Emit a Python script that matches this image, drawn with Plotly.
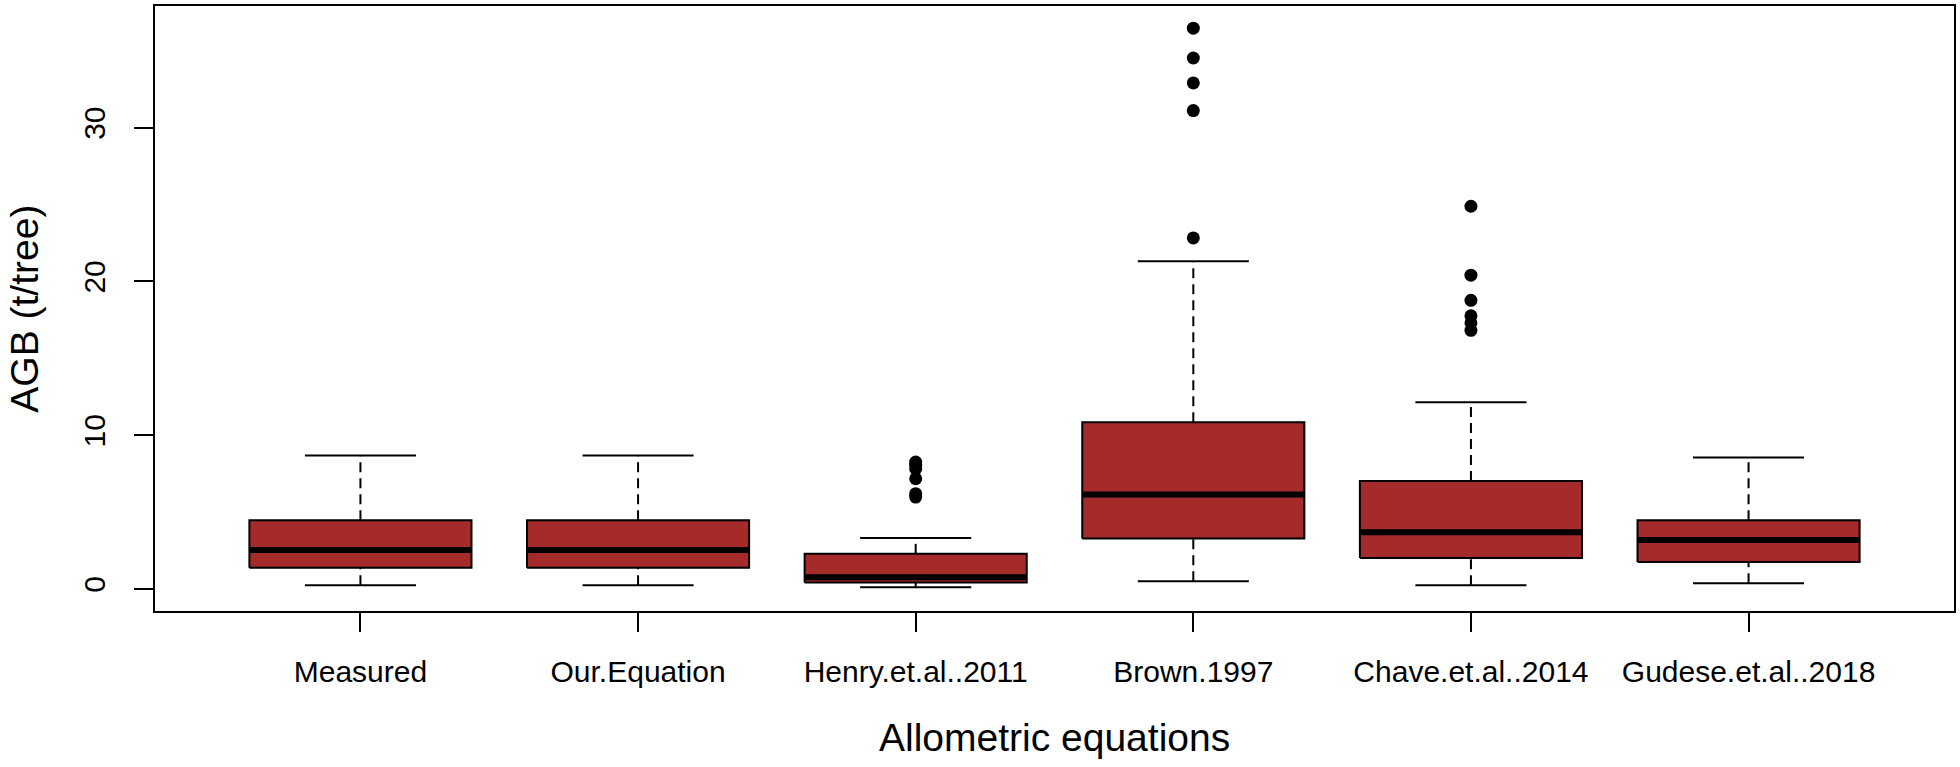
import plotly.graph_objects as go

categories = ["Measured", "Our.Equation", "Henry.et.al..2011", "Brown.1997",
              "Chave.et.al..2014", "Gudese.et.al..2018"]
lower_whisker = [0.24, 0.24, 0.11, 0.50, 0.24, 0.37]
q1 = [1.38, 1.38, 0.43, 3.29, 2.01, 1.75]
median = [2.53, 2.53, 0.76, 6.14, 3.69, 3.18]
q3 = [4.47, 4.47, 2.29, 10.84, 7.02, 4.47]
upper_whisker = [8.68, 8.68, 3.31, 21.32, 12.14, 8.55]
outliers = [
    [],
    [],
    [8.26, 8.05, 7.81, 7.17, 6.20, 5.98],
    [36.47, 34.53, 32.91, 31.11, 22.83],
    [24.89, 20.41, 18.77, 17.77, 17.30, 16.82],
    [],
]
y_ticks = [0, 10, 20, 30]

BOX_HALF = 0.4
CAP_HALF = 0.2
FILL = "#A52A2A"
FONT = "Liberation Sans, Arial, sans-serif"

fig = go.Figure()
for i, name in enumerate(categories):
    x = i + 1
    # dashed whiskers
    for a, b in ((q3[i], upper_whisker[i]), (lower_whisker[i], q1[i])):
        fig.add_trace(go.Scatter(x=[x, x], y=[a, b], mode="lines",
                                 line=dict(color="black", width=2, dash="10px,6px"),
                                 hoverinfo="skip", showlegend=False))
    # caps
    for v in (upper_whisker[i], lower_whisker[i]):
        fig.add_trace(go.Scatter(x=[x - CAP_HALF, x + CAP_HALF], y=[v, v], mode="lines",
                                 line=dict(color="black", width=2),
                                 hoverinfo="skip", showlegend=False))
    # box
    fig.add_trace(go.Scatter(
        x=[x - BOX_HALF, x + BOX_HALF, x + BOX_HALF, x - BOX_HALF, x - BOX_HALF],
        y=[q1[i], q1[i], q3[i], q3[i], q1[i]],
        mode="lines", fill="toself", fillcolor=FILL,
        line=dict(color="black", width=2), hoverinfo="skip", showlegend=False))
    # median
    fig.add_trace(go.Scatter(x=[x - BOX_HALF, x + BOX_HALF], y=[median[i], median[i]],
                             mode="lines", line=dict(color="black", width=6),
                             hoverinfo="skip", showlegend=False))
    # outliers
    if outliers[i]:
        fig.add_trace(go.Scatter(x=[x] * len(outliers[i]), y=outliers[i], mode="markers",
                                 marker=dict(color="black", size=13),
                                 hoverinfo="skip", showlegend=False))

axis_common = dict(showline=True, linecolor="black", linewidth=2, mirror=True,
                   ticks="outside", ticklen=19, tickwidth=2, tickcolor="black",
                   showgrid=False, zeroline=False,
                   tickfont=dict(family=FONT, size=30, color="black"))

fig.update_layout(
    width=1960, height=767,
    margin=dict(l=155, r=4, t=4, b=156),
    paper_bgcolor="white", plot_bgcolor="white",
    xaxis=dict(range=[0.26, 6.74], tickvals=list(range(1, len(categories) + 1)),
               ticktext=categories, ticklabelstandoff=14, **axis_common),
    yaxis=dict(range=[-1.43, 37.91], tickvals=y_ticks, ticktext=[str(t) for t in y_ticks],
               tickangle=-90, ticklabelstandoff=17, **axis_common),
    annotations=[
        dict(text="Allometric equations", xref="paper", yref="paper",
             x=0.5, y=-0.209, xanchor="center", yanchor="middle", showarrow=False,
             font=dict(family=FONT, size=39, color="black")),
        dict(text="AGB (t/tree)", xref="paper", yref="paper",
             x=-(155 - 24) / 1801, y=0.5, xanchor="center", yanchor="middle",
             textangle=-90, showarrow=False,
             font=dict(family=FONT, size=39, color="black")),
    ],
)

fig.write_html("out.html", config={"displayModeBar": False},
               post_script="document.body.style.margin='0';")
